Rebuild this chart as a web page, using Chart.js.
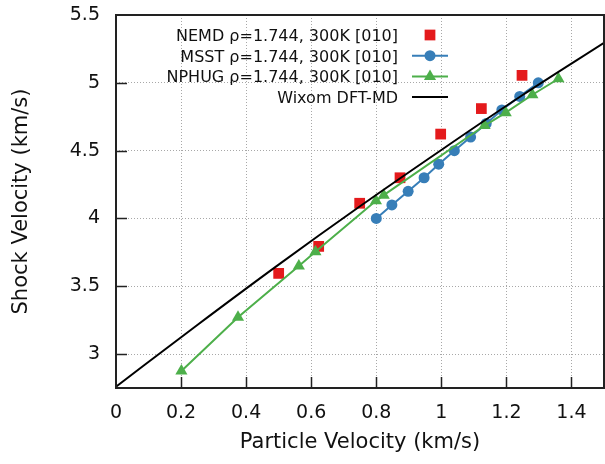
<!DOCTYPE html>
<html>
<head>
<meta charset="utf-8">
<script src="https://cdn.jsdelivr.net/npm/chart.js@4.4.1/dist/chart.umd.min.js"></script>
<style>
  html, body { margin: 0; padding: 0; background: #fff; }
  #wrap { width: 605px; height: 464px; }
</style>
</head>
<body>
<div id="wrap"><canvas id="chart"></canvas></div>
<script>
// values
const nemdUp = [0.50, 0.623, 0.749, 0.873, 0.998, 1.123, 1.248];
const nemdUs = [3.595, 3.794, 4.112, 4.30, 4.622, 4.81, 5.055];
const msstUp = [0.80, 0.848, 0.898, 0.947, 0.992, 1.04, 1.09, 1.138, 1.186, 1.241, 1.298];
const msstUs = [4.0, 4.1, 4.2, 4.3, 4.4, 4.5, 4.6, 4.7, 4.8, 4.9, 5.0];
const nphugUp = [0.201, 0.375, 0.562, 0.613, 0.799, 0.823, 1.133, 1.198, 1.28, 1.36];
const nphugUs = [2.875, 3.272, 3.65, 3.755, 4.13, 4.172, 4.685, 4.78, 4.912, 5.03];
const wixomUp = [0, 0.25, 0.5, 0.75, 1.0, 1.25, 1.5];
const wixomUs = [2.76, 3.215, 3.66, 4.09, 4.505, 4.91, 5.295];

const xTicks = [0, 0.2, 0.4, 0.6, 0.8, 1, 1.2, 1.4];
const yTicks = [3, 3.5, 4, 4.5, 5, 5.5];
const seriesLabels = [
  "NEMD ρ=1.744, 300K [010]",
  "MSST ρ=1.744, 300K [010]",
  "NPHUG ρ=1.744, 300K [010]",
  "Wixom DFT-MD",
];

const RED = "#e41a1c";
const BLUE = "#377eb8";
const GREEN = "#4daf4a";
const FONT = "'DejaVu Sans', sans-serif";

const pts = (xs, ys) => xs.map((x, i) => ({ x: x, y: ys[i] }));

// border, inward tick marks and the gnuplot-style key
const frame = {
  id: "frame",
  afterDatasetsDraw(chart) {
    const { ctx, chartArea: a, scales } = chart;
    ctx.save();
    ctx.strokeStyle = "#222";
    ctx.lineWidth = 1.5;
    ctx.beginPath();
    xTicks.forEach((v) => {
      if (v === 0) return;
      const px = Math.round(scales.x.getPixelForValue(v)) + 0.5;
      ctx.moveTo(px, a.bottom);
      ctx.lineTo(px, a.bottom - 11);
    });
    yTicks.forEach((v) => {
      if (v === 5.5) return;
      const py = Math.round(scales.y.getPixelForValue(v)) + 0.5;
      ctx.moveTo(a.left, py);
      ctx.lineTo(a.left + 11, py);
    });
    ctx.stroke();
    ctx.lineWidth = 2;
    ctx.strokeRect(a.left, a.top, a.right - a.left, a.bottom - a.top);
    ctx.restore();
  },
  afterDraw(chart) {
    const ctx = chart.ctx;
    const textRight = 398;
    const sx0 = 412, sx1 = 448;
    ctx.save();
    ctx.font = "16px " + FONT;
    ctx.textAlign = "right";
    ctx.textBaseline = "alphabetic";
    chart.data.datasets.forEach((ds, i) => {
      const y = 35 + i * 20.7;
      ctx.fillStyle = "#111";
      ctx.fillText(ds.label, textRight, y + 6);
      if (ds.showLine !== false) {
        ctx.strokeStyle = ds.borderColor;
        ctx.lineWidth = ds.borderWidth;
        ctx.beginPath();
        ctx.moveTo(sx0, y);
        ctx.lineTo(sx1, y);
        ctx.stroke();
      }
      if (ds.pointRadius > 0) {
        ctx.fillStyle = ds.pointBackgroundColor;
        ctx.strokeStyle = ds.pointBackgroundColor;
        Chart.helpers.drawPoint(ctx, {
          pointStyle: ds.pointStyle,
          radius: ds.pointRadius,
          rotation: 0,
          borderWidth: 0,
        }, (sx0 + sx1) / 2, y);
      }
    });
    ctx.restore();
  },
};

const gridColor = (skip) => (c) => (c.tick && c.tick.value === skip ? "rgba(0,0,0,0)" : "#a8a8a8");

new Chart(document.getElementById("chart"), {
  type: "scatter",
  data: {
    datasets: [
      {
        label: seriesLabels[0],
        data: pts(nemdUp, nemdUs),
        showLine: false,
        pointStyle: "rect",
        pointRadius: 7.6,
        pointBackgroundColor: RED,
        pointBorderWidth: 0,
        borderColor: RED,
        order: 4,
      },
      {
        label: seriesLabels[1],
        data: pts(msstUp, msstUs),
        showLine: true,
        borderColor: BLUE,
        borderWidth: 2,
        pointStyle: "circle",
        pointRadius: 5.5,
        pointBackgroundColor: BLUE,
        pointBorderWidth: 0,
        order: 3,
      },
      {
        label: seriesLabels[2],
        data: pts(nphugUp, nphugUs),
        showLine: true,
        borderColor: GREEN,
        borderWidth: 2,
        pointStyle: "triangle",
        pointRadius: 7,
        pointBackgroundColor: GREEN,
        pointBorderWidth: 0,
        order: 2,
      },
      {
        label: seriesLabels[3],
        data: pts(wixomUp, wixomUs),
        showLine: true,
        borderColor: "#000",
        borderWidth: 2,
        cubicInterpolationMode: "monotone",
        pointRadius: 0,
        order: 1,
      },
    ],
  },
  options: {
    responsive: true,
    maintainAspectRatio: false,
    animation: false,
    events: [],
    layout: { autoPadding: false, padding: { top: 15, right: 1, left: 0, bottom: 0 } },
    plugins: {
      legend: { display: false },
      tooltip: { enabled: false },
    },
    scales: {
      x: {
        type: "linear",
        min: 0,
        max: 1.5,
        afterBuildTicks: (s) => { s.ticks = xTicks.map((v) => ({ value: v })); },
        afterFit: (s) => {
          s.height = 76;
          s.paddingLeft = 0;
          s.paddingRight = 0;
        },
        border: { display: false, dash: [1, 2] },
        grid: {
          color: gridColor(0),
          lineWidth: 1,
          drawTicks: false,
        },
        ticks: {
          color: "#111",
          font: { family: FONT, size: 19 },
          padding: 14,
          maxRotation: 0,
          callback: (v) => String(+v.toFixed(2)),
        },
        title: {
          display: true,
          text: "Particle Velocity (km/s)",
          color: "#111",
          font: { family: FONT, size: 21 },
          padding: { top: 0, bottom: 9 },
        },
      },
      y: {
        type: "linear",
        min: 2.75,
        max: 5.5,
        afterBuildTicks: (s) => { s.ticks = yTicks.map((v) => ({ value: v })); },
        afterFit: (s) => {
          s.width = 116;
          s.paddingTop = 0;
          s.paddingBottom = 0;
        },
        border: { display: false, dash: [1, 2] },
        grid: {
          color: gridColor(5.5),
          lineWidth: 1,
          drawTicks: false,
        },
        ticks: {
          color: "#111",
          font: { family: FONT, size: 19 },
          padding: 16,
          callback: (v) => String(+v.toFixed(2)),
        },
        title: {
          display: true,
          text: "Shock Velocity (km/s)",
          color: "#111",
          font: { family: FONT, size: 21 },
          padding: { top: 9, bottom: 0 },
        },
      },
    },
  },
  plugins: [frame],
});
</script>
</body>
</html>
